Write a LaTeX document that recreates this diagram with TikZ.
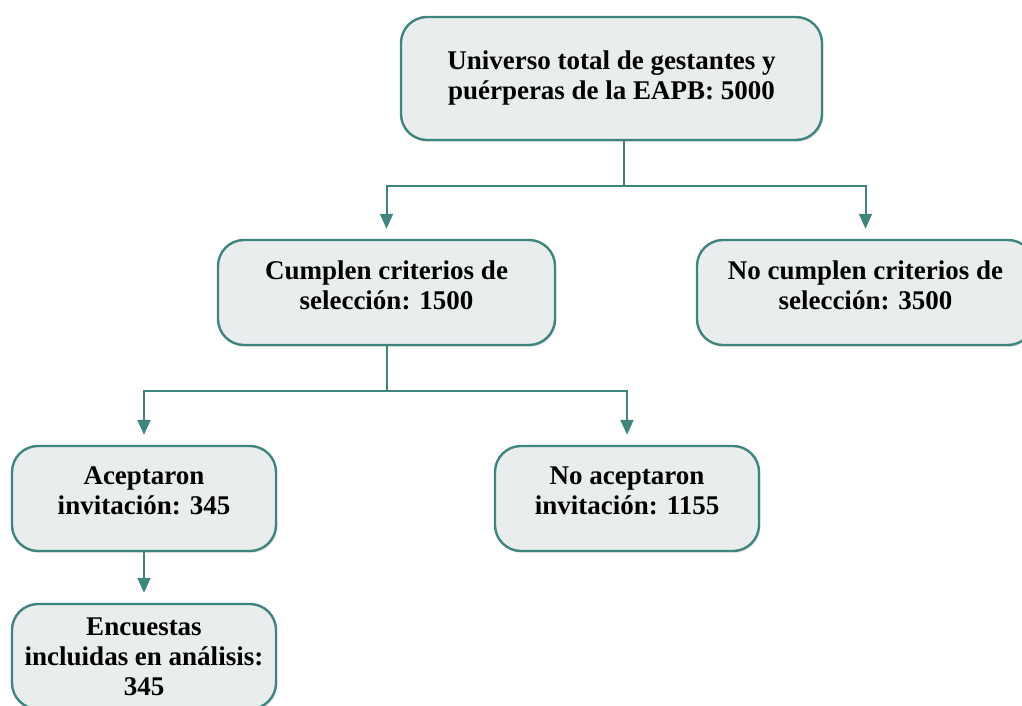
\documentclass[tikz,border=0pt]{standalone}
\usepackage{fontspec}
\setmainfont{Liberation Serif}
\usetikzlibrary{arrows.meta,shadows}
\definecolor{teal}{HTML}{3E8580}
\definecolor{boxfill}{HTML}{EAEDEE}
\begin{document}
\begin{tikzpicture}[x=1pt,y=-1pt,
  box/.style={draw=teal, line width=2.4pt, fill=boxfill, rounded corners=26pt,
    inner sep=0pt, align=center, font=\fontsize{27}{30}\selectfont\bfseries,
    drop shadow={opacity=0.18, shadow xshift=1.5pt, shadow yshift=-2pt}},
  lifted/.style={text depth=15pt},
  conn/.style={draw=teal, line width=2pt},
  arr/.style={conn, -{Triangle[width=13pt,length=15pt]}, shorten >=10pt}]
\useasboundingbox (0,0) rectangle (1022,706);
\node[box, minimum width=421pt, minimum height=123pt] (top) at (611.5,78.5)
  {Universo total de gestantes y\\puérperas de la EAPB: 5000};
\node[box, lifted, minimum width=337pt, minimum height=105pt] (cum) at (386.5,292.5)
  {Cumplen criterios de\\selección: 1500};
\node[box, lifted, minimum width=337pt, minimum height=105pt] (nocum) at (865.5,292.5)
  {No cumplen criterios de\\selección: 3500};
\node[box, lifted, minimum width=264pt, minimum height=105pt] (acep) at (144,498.5)
  {Aceptaron\\invitación: 345};
\node[box, lifted, minimum width=264pt, minimum height=105pt] (noacep) at (627,498.5)
  {No aceptaron\\invitación: 1155};
\node[box, minimum width=264pt, minimum height=105pt] (enc) at (144,656.5)
  {Encuestas\\incluidas en análisis:\\345};
\coordinate (j1) at ([xshift=12.5pt,yshift=-45pt]top.south);
\draw[conn] ([xshift=12.5pt]top.south) -- (j1);
\draw[arr] (j1) -| (cum.north);
\draw[arr] (j1) -| (nocum.north);
\coordinate (j2) at ([yshift=-45pt]cum.south);
\draw[conn] (cum.south) -- (j2);
\draw[arr] (j2) -| (acep.north);
\draw[arr] (j2) -| (noacep.north);
\draw[arr] (acep.south) -- (enc.north);
\end{tikzpicture}
\end{document}
